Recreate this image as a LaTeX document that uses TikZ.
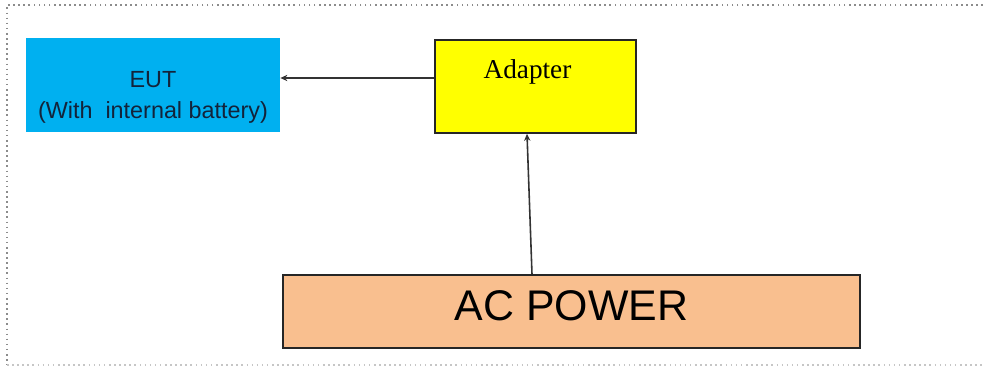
\documentclass[tikz,border=0pt]{standalone}
\usepackage{fontspec}
\setmainfont{Liberation Serif}
\setsansfont{Liberation Sans}
\usetikzlibrary{arrows.meta,positioning}
\definecolor{ink}{HTML}{262626}
\definecolor{eutc}{HTML}{00B0F0}
\definecolor{eutt}{HTML}{13233A}
\definecolor{adpc}{HTML}{FFFF00}
\definecolor{acc}{HTML}{F9BF8F}
\definecolor{wire}{HTML}{333333}
\definecolor{frame}{HTML}{8C8C8C}

\begin{document}
\begin{tikzpicture}[
    >={Stealth[length=4pt, width=3.6pt]},
    box/.style={draw=ink, line width=0.9pt, inner sep=0pt},
    conn/.style={->, line width=0.9pt, wire},
    txt/.style={align=center, inner sep=0pt},
]
\useasboundingbox (0,0) rectangle (19.66,7.38);

% Frame
\draw[frame, dotted, line width=0.9pt] (19.66,7.28) -- (0.14,7.28) -- (0.14,0.08);
\draw[frame!50, dotted, line width=0.9pt] (0.14,0.08) -- (19.66,0.08);

% EUT
\node[fill=eutc, inner sep=0pt, minimum width=5.08cm, minimum height=1.88cm,
    label={[txt, yshift=-0.24cm, text=eutt, font=\sffamily\fontsize{13.3}{17.6}\selectfont]center:EUT\\(With~ internal battery)}]
    (eut) at (3.06, 5.68) {};

% Adapter
\node[box, fill=adpc, minimum width=4.02cm, minimum height=1.86cm,
    label={[txt, xshift=-0.16cm, yshift=0.3cm, font=\rmfamily\fontsize{15.5}{18}\selectfont]center:Adapter}]
    (adp) at (10.71, 5.65) {};

% AC power
\node[box, fill=acc, minimum width=11.54cm, minimum height=1.46cm,
    label={[txt, yshift=0.12cm, font=\sffamily\fontsize{24.4}{28}\selectfont]center:AC POWER}]
    (ac) at (11.43, 1.15) {};

% Arrows
\draw[conn] ([yshift=0.17cm]adp.west) -- ([yshift=0.14cm]eut.east);
\draw[conn] ([xshift=-0.79cm]ac.north) -- ([xshift=-0.17cm]adp.south);

\end{tikzpicture}
\end{document}
